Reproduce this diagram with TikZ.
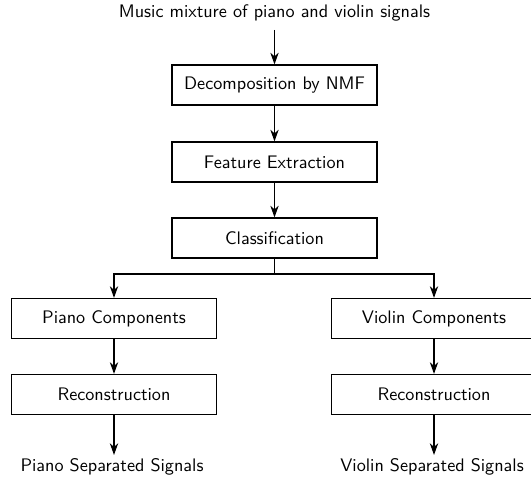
\documentclass[tikz,border=0pt]{standalone}
\usetikzlibrary{arrows.meta}
\begin{document}
\begin{tikzpicture}[x=0.6pt,y=-0.6pt,
  font=\sffamily\fontsize{10.9}{13}\selectfont,
  blk/.style={draw,line width=0.75pt,minimum width=123pt,minimum height=24pt,inner sep=0pt},
  lbl/.style={inner sep=2pt},
  arr/.style={line width=0.75pt,-{Stealth[length=7pt,width=5pt,inset=2.2pt]}},
  ln/.style={line width=0.75pt}]
\useasboundingbox (0,0) rectangle (531,482);
\node[lbl] (in) at (274.5,13) {Music mixture of piano and violin signals};
\node[blk] (b1) at (274.5,85) {Decomposition by NMF};
\node[blk] (b2) at (274.5,162) {Feature Extraction};
\node[blk] (b3) at (274.5,238) {Classification};
\node[blk] (pc) at (114,318.5) {Piano Components};
\node[blk] (vc) at (434,318.5) {Violin Components};
\node[blk] (pr) at (114,394.5) {Reconstruction};
\node[blk] (vr) at (434,394.5) {Reconstruction};
\node[lbl] (po) at (112,467) {Piano Separated Signals};
\node[lbl] (vo) at (432,467) {Violin Separated Signals};
\coordinate (j) at (274.5,274);
\coordinate (s) at (274.5,30);
\draw[arr] (s) -- (b1.north);
\draw[arr] (b1) -- (b2);
\draw[arr] (b2) -- (b3);
\draw[ln] (b3.south) -- (j);
\draw[arr] (j) -| (pc.north);
\draw[arr] (j) -| (vc.north);
\draw[arr] (pc) -- (pr);
\draw[arr] (vc) -- (vr);
\draw[arr] (pr.south) -- (pr.south |- po.north);
\draw[arr] (vr.south) -- (vr.south |- vo.north);
\end{tikzpicture}
\end{document}
